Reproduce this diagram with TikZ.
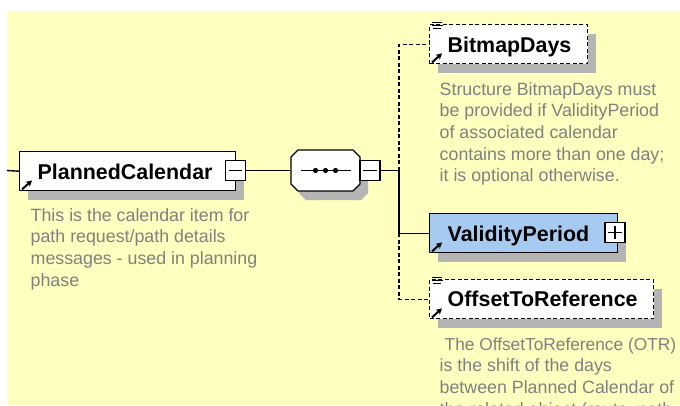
\documentclass[tikz,border=0pt]{standalone}
\usepackage{fontspec}
\setmainfont{Liberation Sans}
\usetikzlibrary{shadows,arrows.meta}
\definecolor{canvas}{RGB}{255,255,192}
\definecolor{shadowgray}{RGB}{180,180,180}
\definecolor{doc}{RGB}{128,128,128}
\definecolor{complexfill}{RGB}{166,202,240}
\begin{document}
\begin{tikzpicture}[x=1pt,y=-1pt,
  line width=1.4pt,
  elem/.style={draw=black, fill=white, line width=1.4pt, minimum height=39pt,
    inner sep=0pt, anchor=north west,
    drop shadow={shadow xshift=8pt, shadow yshift=-9pt, opacity=1, fill=shadowgray}},
  optelem/.style={elem, dash pattern=on 4pt off 2.5pt},
  title/.style={anchor=base west, inner sep=0pt, font=\fontsize{21.4pt}{24pt}\selectfont\bfseries},
  docline/.style={anchor=base west, inner sep=0pt, text=doc, font=\fontsize{17.8pt}{21.7pt}\selectfont},
  toggle/.style={draw=black, fill=white, line width=1.3pt, minimum width=20pt, minimum height=20pt, inner sep=0pt},
  refarrow/.style={line width=2pt, -{Stealth[length=6pt,width=6.5pt]}},
  optdash/.style={dash pattern=on 4pt off 2.5pt},
  docmark/.style={line width=1.1pt}
]
\useasboundingbox (0,0) rectangle (680,405);
\fill[white] (0,0) rectangle (680,405);
\fill[canvas] (7,11) rectangle (680,405);

\begin{scope}
\clip (0,0) rectangle (680,405);

% ---- root element
\coordinate (in) at (7,170.5);
\node[elem, minimum width=216pt] (pc) at (19,151) {};
\node[title] (pct) at (37,179) {PlannedCalendar};
\draw[refarrow] ([shift={(3,-2)}]pc.south west) -- ([shift={(13,-11)}]pc.south west);
\node[toggle] (pcm) at (235.5,170.5) {};
\draw ([xshift=4pt]pcm.west) -- ([xshift=-4pt]pcm.east);
\draw (in) -- (pc.west);

\node[docline] (pcd1) at (30,221) {This is the calendar item for};
\node[docline] (pcd2) at (30,242.7) {path request/path details};
\node[docline] (pcd3) at (30,264.4) {messages - used in planning};
\node[docline] (pcd4) at (30,286) {phase};

% ---- sequence compositor (octagon)
\begin{scope}[shift={(8,9)}]
  \fill[fill=shadowgray] (298,150) -- (353,150) -- (360,157) -- (360,184) -- (353,191)
    -- (298,191) -- (291,184) -- (291,157) -- cycle;
\end{scope}
\draw[fill=white] (298,150) -- (353,150) -- (360,157) -- (360,184) -- (353,191)
    -- (298,191) -- (291,184) -- (291,157) -- cycle;
\node[minimum width=69pt, minimum height=41pt, inner sep=0pt] (seq) at (325.5,170.5) {};
\draw[line width=1.2pt] ([xshift=-25pt]seq.center) -- ([xshift=25pt]seq.center);
\foreach \dx in {-10,0,10}
  \fill ([xshift=\dx pt]seq.center) circle (2.6pt);
\node[toggle] (seqm) at (370,170.5) {};
\draw ([xshift=4pt]seqm.west) -- ([xshift=-4pt]seqm.east);
\draw (pcm.east) -- (seq.west);

% ---- child elements
\node[optelem, minimum width=158pt] (bd) at (429,24) {};
\node[title] (bdt) at (447,52) {BitmapDays};
\draw[refarrow] ([shift={(3,-2)}]bd.south west) -- ([shift={(13,-11)}]bd.south west);
\draw[docmark] (432,22.5) -- (442,22.5) (432,25.5) -- (443,25.5) (433,28.5) -- (441,28.5);

\node[docline] (bdd1) at (439,95) {Structure BitmapDays must};
\node[docline] (bdd2) at (439,116.7) {be provided if ValidityPeriod};
\node[docline] (bdd3) at (439,138.4) {of associated calendar};
\node[docline] (bdd4) at (439,160.1) {contains more than one day;};
\node[docline] (bdd5) at (439,181.8) {it is optional otherwise.};

\node[elem, fill=complexfill, minimum width=188pt] (vp) at (429,213) {};
\node[title] (vpt) at (447,241) {ValidityPeriod};
\draw[refarrow] ([shift={(3,-2)}]vp.south west) -- ([shift={(13,-11)}]vp.south west);
\node[toggle] (vpp) at (615,232.5) {};
\draw ([xshift=4pt]vpp.west) -- ([xshift=-4pt]vpp.east)
      ([yshift=4pt]vpp.south) -- ([yshift=-4pt]vpp.north);

\node[optelem, minimum width=224pt] (otr) at (429,279) {};
\node[title] (otrt) at (447,306.5) {OffsetToReference};
\draw[refarrow] ([shift={(3,-2)}]otr.south west) -- ([shift={(13,-11)}]otr.south west);
\draw[docmark] (432,277.5) -- (442,277.5) (432,280.5) -- (443,280.5) (433,283.5) -- (441,283.5);

\node[docline, font=\fontsize{17.3pt}{21.7pt}\selectfont] (otrd1) at (444,350) {The OffsetToReference (OTR)};
\node[docline] (otrd2) at (439,371.7) {is the shift of the days};
\node[docline] (otrd3) at (439,393.4) {between Planned Calendar of};
\node[docline] (otrd4) at (439,415.1) {the related object (route, path};

% ---- branch lines from the sequence
\coordinate (bus) at (399,170.5);
\draw (seqm.east) -- (bus);
\draw (bus) -- (bus |- vp.west) -- (vp.west);
\draw[optdash] (bus) -- (bus |- bd.west) -- (bd.west);
\draw[optdash] (bus |- vp.west) -- (bus |- otr.west) -- (otr.west);
\end{scope}
\end{tikzpicture}
\end{document}
